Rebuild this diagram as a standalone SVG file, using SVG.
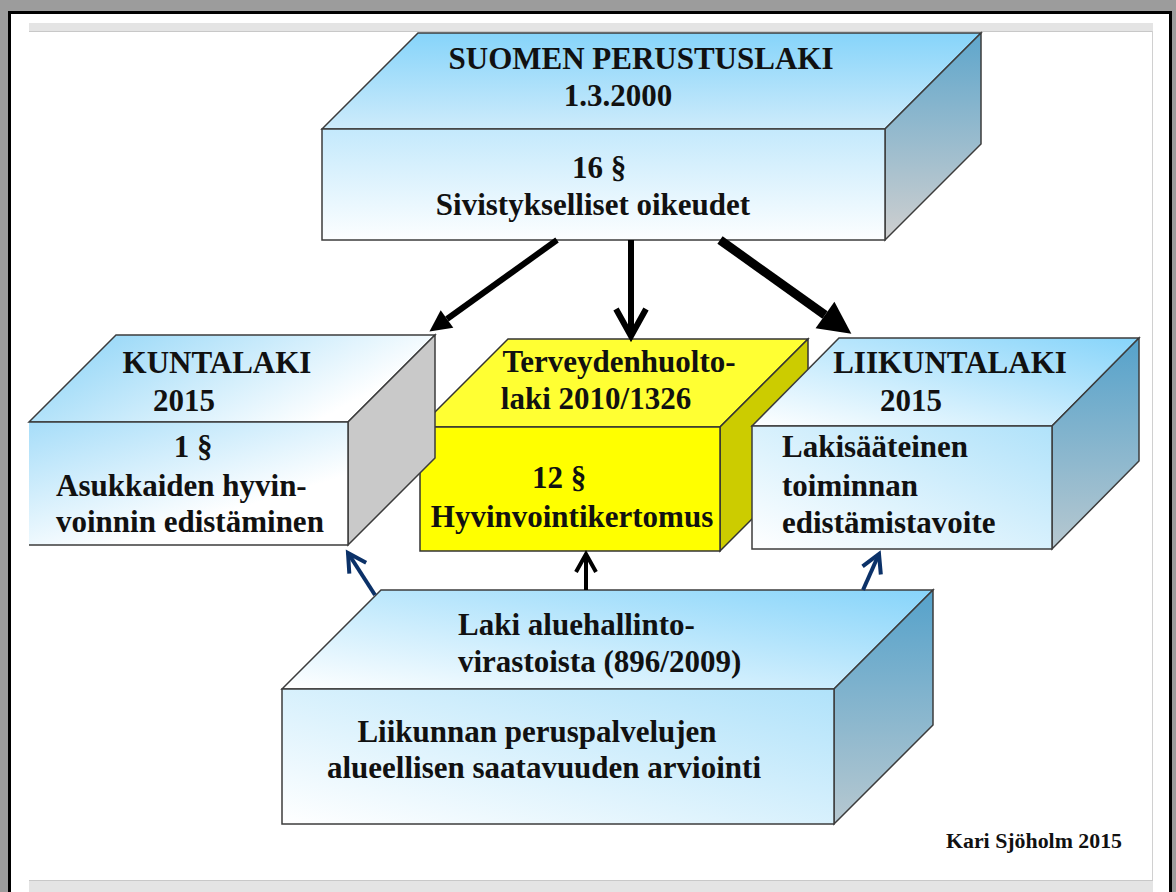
<svg xmlns="http://www.w3.org/2000/svg" width="1176" height="892" viewBox="0 0 1176 892">
<defs>
<style>
.t{font-family:"Liberation Serif","Times New Roman",serif;font-weight:bold;font-size:31px;fill:#111}
.c{text-anchor:middle}
.edge{stroke:#3c3c3c;stroke-width:1.5;stroke-linejoin:miter}
.ye{stroke:#333;stroke-width:1.5}
.blk{fill:none;stroke:#000}
.navy{fill:none;stroke:#0b3168;stroke-width:4}
</style>
<linearGradient id="gTop1" x1="0" y1="0" x2="0" y2="1"><stop offset="0" stop-color="#86d4fa"/><stop offset="1" stop-color="#cdebfb"/></linearGradient>
<linearGradient id="gFront1" x1="0" y1="0" x2="0" y2="1"><stop offset="0" stop-color="#c4e9fc"/><stop offset="1" stop-color="#fcfeff"/></linearGradient>
<linearGradient id="gSide1" x1="0" y1="0" x2="0" y2="1"><stop offset="0" stop-color="#5ea6cc"/><stop offset="1" stop-color="#cfcfcf"/></linearGradient>
<linearGradient id="gTopL" x1="0" y1="0.3" x2="1" y2="0.7"><stop offset="0.1" stop-color="#a0dbf8"/><stop offset="0.85" stop-color="#ffffff"/></linearGradient>
<linearGradient id="gFrontL" x1="0" y1="0" x2="0.8" y2="1"><stop offset="0" stop-color="#a6ddf9"/><stop offset="0.75" stop-color="#ffffff"/></linearGradient>
<linearGradient id="gTopR" x1="0" y1="1" x2="1" y2="0"><stop offset="0" stop-color="#ffffff"/><stop offset="1" stop-color="#86d4fa"/></linearGradient>
<linearGradient id="gFrontR" x1="0" y1="1" x2="1" y2="0"><stop offset="0" stop-color="#ffffff"/><stop offset="1" stop-color="#b0e2fa"/></linearGradient>
<linearGradient id="gSideR" x1="0" y1="0" x2="0" y2="1"><stop offset="0" stop-color="#55a2cb"/><stop offset="1" stop-color="#b7c8d0"/></linearGradient>
<marker id="tri" viewBox="-4 -2 4 4" markerUnits="strokeWidth" markerWidth="4" markerHeight="4" refX="-3.6" refY="0" orient="auto">
<path d="M-3.6,-1.8 L0,0 L-3.6,1.8 Z" fill="#000"/>
</marker>
<marker id="veeK" viewBox="-6 -4 8 8" markerUnits="strokeWidth" markerWidth="8" markerHeight="8" refX="0" refY="0" orient="auto">
<path d="M-4.5,-2.5 L0,0 L-4.5,2.5" fill="none" stroke="#000" stroke-width="1"/>
</marker>
<marker id="veeN" viewBox="-6 -4 8 8" markerUnits="strokeWidth" markerWidth="8" markerHeight="8" refX="0" refY="0" orient="auto">
<path d="M-4.5,-2.5 L0,0 L-4.5,2.5" fill="none" stroke="#0b3168" stroke-width="1"/>
</marker>
</defs>

<g id="frame">
<rect width="1176" height="892" fill="#9c9c9c"/>
<rect x="9.5" y="12.5" width="1161" height="900" fill="#ffffff" stroke="#000" stroke-width="3"/>
<rect x="29" y="23" width="1124" height="8" fill="#e4e4e4"/>
<line x1="29" y1="31.5" x2="1153" y2="31.5" stroke="#c8c8c8" stroke-width="1"/>
<line x1="1152.5" y1="31" x2="1152.5" y2="880" stroke="#d0d0d0" stroke-width="1"/>
<rect x="29" y="880" width="1124" height="12" fill="#e4e4e4"/>
<line x1="29" y1="880.5" x2="1153" y2="880.5" stroke="#c8c8c8" stroke-width="1"/>
</g>

<g id="node-perustuslaki">
<polygon class="edge" points="322,129 418,33 981,33 885,129" fill="url(#gTop1)"/>
<polygon class="edge" points="885,129 981,33 981,144 885,240" fill="url(#gSide1)"/>
<rect class="edge" x="322" y="129" width="563" height="111" fill="url(#gFront1)"/>
<text class="t c" x="641" y="69">SUOMEN PERUSTUSLAKI</text>
<text class="t c" x="618" y="106">1.3.2000</text>
<text class="t c" x="599" y="178">16 §</text>
<text class="t c" x="593" y="215">Sivistykselliset oikeudet</text>
</g>

<g id="node-terveydenhuoltolaki">
<polygon class="ye" points="420,427 508,339 808,339 720,427" fill="#ffff33"/>
<polygon class="ye" points="720,427 808,339 808,463 720,551" fill="#cccc00"/>
<rect class="ye" x="420" y="427" width="300" height="124" fill="#ffff00"/>
<text class="t c" x="619" y="372">Terveydenhuolto-</text>
<text class="t c" x="596" y="409">laki 2010/1326</text>
<text class="t c" x="559" y="488">12 §</text>
<text class="t c" x="572" y="527">Hyvinvointikertomus</text>
</g>

<g id="node-kuntalaki">
<polygon class="edge" points="29,422 116,335 435,335 348,422" fill="url(#gTopL)"/>
<polygon class="edge" points="348,422 435,335 435,458 348,545" fill="#c9c9c9"/>
<rect x="29" y="422" width="319" height="123" fill="url(#gFrontL)"/>
<polyline class="edge" points="29,422 348,422 348,545 29,545" fill="none"/>
<text class="t c" x="217" y="373">KUNTALAKI</text>
<text class="t c" x="184" y="411">2015</text>
<text class="t c" x="193" y="457">1 §</text>
<text class="t" x="56" y="496">Asukkaiden hyvin-</text>
<text class="t" x="56" y="532">voinnin edistäminen</text>
</g>

<g id="node-liikuntalaki">
<polygon class="edge" points="752,426 839,338 1139,338 1052,426" fill="url(#gTopR)"/>
<polygon class="edge" points="1052,426 1139,338 1139,461 1052,549" fill="url(#gSideR)"/>
<rect class="edge" x="752" y="426" width="300" height="123" fill="url(#gFrontR)"/>
<text class="t c" x="950" y="373">LIIKUNTALAKI</text>
<text class="t c" x="911" y="411">2015</text>
<text class="t" x="782" y="457">Lakisääteinen</text>
<text class="t" x="782" y="496">toiminnan</text>
<text class="t" x="782" y="533">edistämistavoite</text>
</g>

<g id="node-aluehallinto">
<polygon class="edge" points="282,689 381,590 933,590 834,689" fill="url(#gTopR)"/>
<polygon class="edge" points="834,689 933,590 933,725 834,824" fill="url(#gSideR)"/>
<rect class="edge" x="282" y="689" width="552" height="135" fill="url(#gFrontR)"/>
<text class="t" x="458" y="635">Laki aluehallinto-</text>
<text class="t" x="458" y="672">virastoista (896/2009)</text>
<text class="t c" x="537" y="742">Liikunnan peruspalvelujen</text>
<text class="t c" x="544" y="778">alueellisen saatavuuden arviointi</text>
</g>

<g id="connectors">
<line class="blk" x1="557" y1="240" x2="447" y2="319" stroke-width="6" marker-end="url(#tri)"/>
<line class="blk" x1="631" y1="240" x2="631" y2="336" stroke-width="6" marker-end="url(#veeK)"/>
<line class="blk" x1="720" y1="240" x2="825" y2="315" stroke-width="9" marker-end="url(#tri)"/>
<line class="blk" x1="586" y1="590" x2="586" y2="554" stroke-width="4" marker-end="url(#veeK)"/>
<line class="navy" x1="375" y1="595" x2="348" y2="553" marker-end="url(#veeN)"/>
<line class="navy" x1="863" y1="590" x2="879" y2="554" marker-end="url(#veeN)"/>
</g>

<g id="credit">
<text class="t" x="946" y="848" style="font-size:20px" textLength="176" lengthAdjust="spacingAndGlyphs">Kari Sjöholm 2015</text>
</g>
</svg>
